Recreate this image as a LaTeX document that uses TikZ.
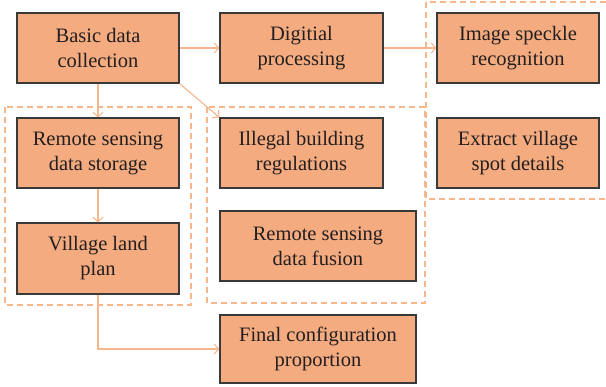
\documentclass[tikz,border=0pt]{standalone}
\usepackage{fontspec}
\setmainfont{Liberation Serif}
\usepackage{tikz}
\usetikzlibrary{arrows.meta}

\definecolor{boxfill}{RGB}{244,171,127}
\definecolor{linkcol}{RGB}{246,182,142}
\definecolor{edgecol}{RGB}{58,56,56}
\definecolor{textcol}{RGB}{35,31,32}

\tikzset{
    stagebox/.style={draw=edgecol, line width=1.1pt, fill=boxfill, text=textcol,
        align=center, inner sep=0pt, minimum width=162pt, minimum height=70pt,
        font=\fontsize{20.5}{25}\selectfont},
    link/.style={draw=linkcol, line width=1.1pt, -{Straight Barb[length=4.5pt,width=10pt]}},
    groupbox/.style={draw=linkcol, line width=1.1pt, dash pattern=on 6pt off 4pt}
}

\begin{document}
\begin{tikzpicture}[x=1pt, y=-1pt]
    \useasboundingbox (0,0) rectangle (606,387);

    % dashed groups
    \draw[groupbox] (5,107) rectangle (191,305);
    \draw[groupbox] (207,107) rectangle (425,303);
    \begin{scope}
        \clip (0,0) rectangle (606,387);
        \draw[groupbox] (426,2) rectangle (614,199);
    \end{scope}

    % stages
    \node[stagebox] (basic)   at (98,48)    {Basic data\\collection};
    \node[stagebox, minimum width=163pt] (digit) at (301.5,48) {Digitial\\processing};
    \node[stagebox] (speckle) at (518,48)   {Image speckle\\recognition};
    \node[stagebox] (storage) at (98,153)   {Remote sensing\\data storage};
    \node[stagebox, minimum width=163pt] (illegal) at (301.5,153) {Illegal building\\regulations};
    \node[stagebox] (extract) at (518,153)  {Extract village\\spot details};
    \node[stagebox, minimum height=71pt] (village) at (98,258.5) {Village land\\plan};
    \node[stagebox, minimum width=196pt] (fusion) at (318,246) {Remote sensing\\data fusion};
    \node[stagebox, minimum width=196pt, minimum height=68pt] (final) at (318,349) {Final configuration\\proportion};

    % links
    \draw[link] (basic) -- (digit);
    \draw[link] (digit) -- (speckle);
    \draw[link] (basic) -- (storage);
    \draw[link] (basic.south east) -- (illegal.north west);
    \draw[link] (storage) -- (village);
    \draw[link] (village.south) |- (final.west);

\end{tikzpicture}
\end{document}
